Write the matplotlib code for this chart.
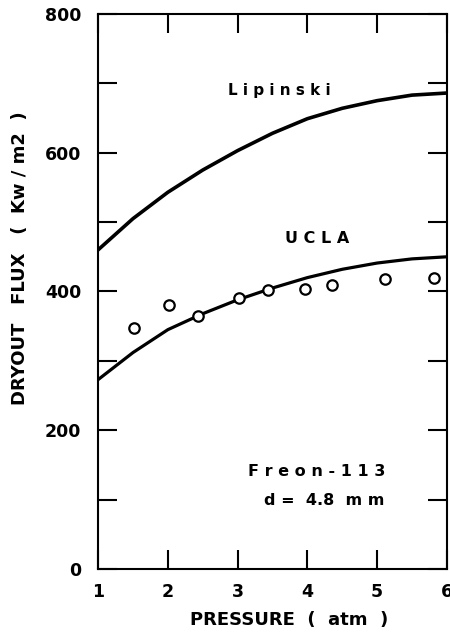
import numpy as np
import matplotlib
matplotlib.use("Agg")
import matplotlib.pyplot as plt

# correlation curves, dryout flux (kW/m2) against pressure (atm)
pressure = [1.0, 1.5, 2.0, 2.5, 3.0, 3.5, 4.0, 4.5, 5.0, 5.5, 6.0]
lipinski = [460, 505, 543, 575, 603, 628, 649, 664, 675, 683, 686]
ucla = [273, 312, 345, 368, 388, 405, 420, 432, 441, 447, 450]

# measured points
p_data = [1.51, 2.01, 2.43, 3.02, 3.44, 3.97, 4.36, 5.12, 5.82]
q_data = [348, 381, 365, 390, 402, 404, 409, 418, 419]

x_ticks = [1, 2, 3, 4, 5, 6]
y_ticks = [0, 200, 400, 600, 800]

plt.rcParams['font.family'] = ['DejaVu Sans']
plt.rcParams['font.weight'] = 'bold'

fig = plt.figure(figsize=(4.5, 6.33), dpi=100)
ax = fig.add_axes([0.218, 0.101, 0.775, 0.877])

ax.plot(pressure, lipinski, color='black', lw=2.6)
ax.plot(pressure, ucla, color='black', lw=2.3)
ax.plot(p_data, q_data, 'o', ms=7.5, mfc='white', mec='black', mew=1.6)

ax.set_xlim(1, 6)
ax.set_ylim(0, 800)
ax.set_xticks(x_ticks)
ax.set_yticks(y_ticks)
ax.set_yticks([100, 300, 500, 700], minor=True)
ax.tick_params(direction='in', which='both', top=True, right=True, width=1.5,
               length=14, labelsize=12.5)
ax.tick_params(axis='x', pad=10)
ax.tick_params(axis='y', pad=12)
for s in ax.spines.values():
    s.set_linewidth(1.5)

ax.text(3.6, 690, 'L i p i n s k i', fontsize=11, ha='center', va='center')
ax.text(4.14, 476, 'U C L A', fontsize=11.5, ha='center', va='center')
ax.text(4.14, 140, 'F r e o n - 1 1 3', fontsize=11.5, ha='center', va='center')
ax.text(4.24, 99, 'd =  4.8  m m', fontsize=11.5, ha='center', va='center')

# axis titles placed by hand, both sit off-centre
fig.text(289 / 450, 1 - 620 / 633, 'PRESSURE  (  atm  )', fontsize=13,
         ha='center', va='center')
fig.text(20 / 450, 1 - 258 / 633, 'DRYOUT   FLUX   (  Kw / m2  )', fontsize=13,
         rotation=90, ha='center', va='center')

fig.savefig('out.png', dpi=100)
